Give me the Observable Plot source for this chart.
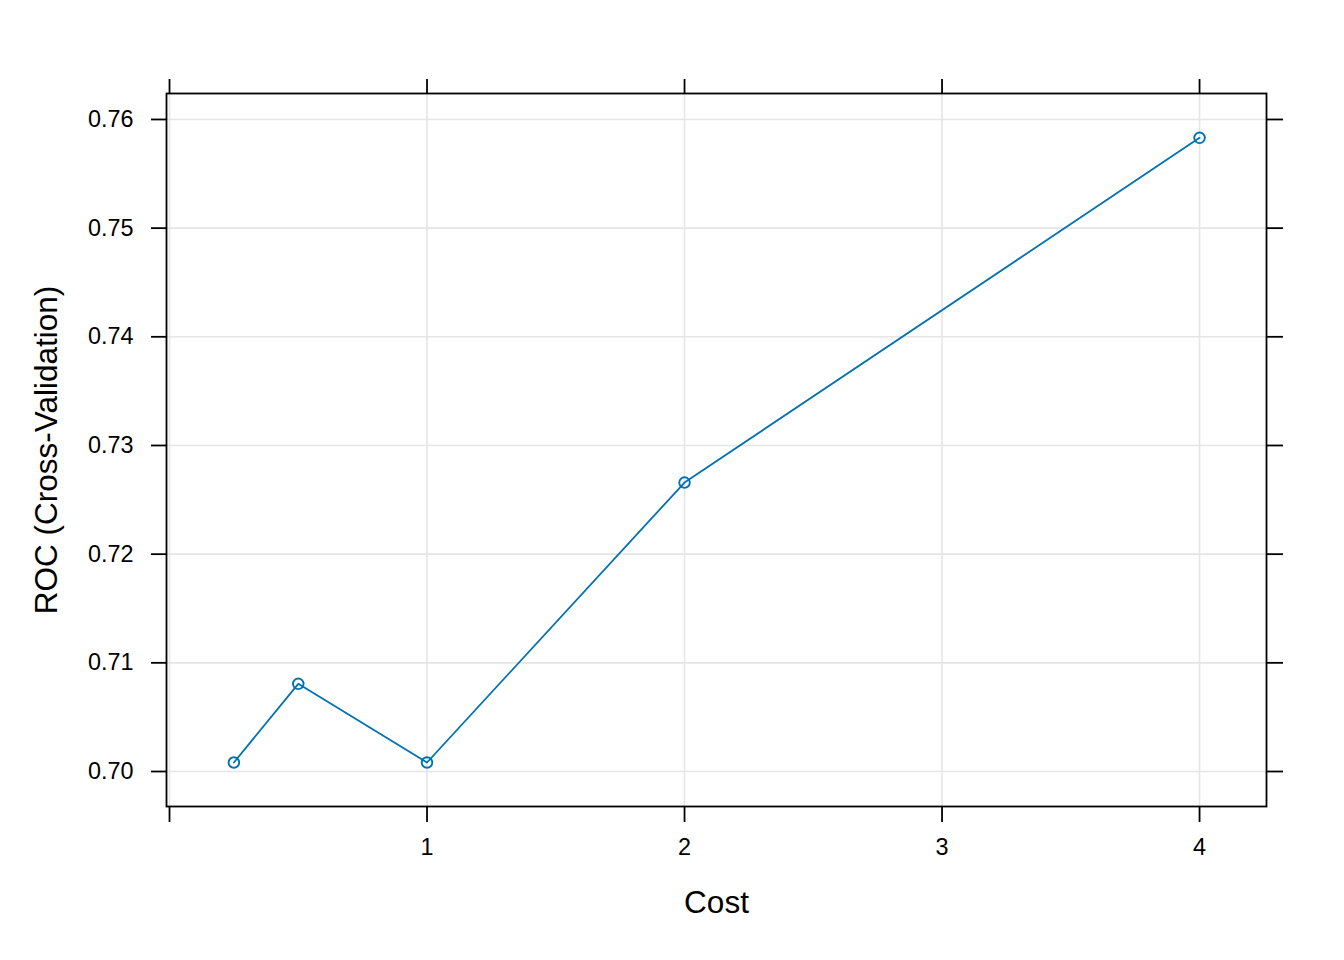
<!DOCTYPE html>
<html>
<head>
<meta charset="utf-8">
<script src="https://cdn.jsdelivr.net/npm/d3@7"></script>
<script src="https://cdn.jsdelivr.net/npm/@observablehq/plot@0.6"></script>
<style>
  html, body { margin: 0; padding: 0; background: #ffffff; }
  #chart svg { display: block; }
</style>
</head>
<body>
<div id="chart"></div>
<script>
// Data
const cost = [0.25, 0.5, 1, 2, 4];
const roc = [0.70083, 0.70807, 0.70083, 0.72659, 0.75831];
const xTicks = [0, 1, 2, 3, 4];
const yTicks = [0.70, 0.71, 0.72, 0.73, 0.74, 0.75, 0.76];
const xTitle = "Cost";
const yTitle = "ROC (Cross-Validation)";

const data = cost.map((c, i) => ({cost: c, roc: roc[i]}));
const blue = "#0072B2";
const font = "'Liberation Sans', Arial, Helvetica, sans-serif";

const chart = Plot.plot({
  width: 1344,
  height: 960,
  marginLeft: 166,
  marginRight: 78,
  marginTop: 93,
  marginBottom: 154,
  style: {fontSize: "23.4px", fontFamily: font, color: "#000", background: "#fff"},
  x: {domain: [-0.0117, 4.26]},
  y: {domain: [0.69678, 0.76239]},
  marks: [
    Plot.gridX(xTicks, {stroke: "#e5e5e5", strokeOpacity: 1, strokeWidth: 1.6}),
    Plot.gridY(yTicks, {stroke: "#e5e5e5", strokeOpacity: 1, strokeWidth: 1.6}),
    Plot.axisX({anchor: "bottom", ticks: xTicks, tickSize: 16, tickPadding: 16,
      tickFormat: d => d === 0 ? "" : String(d), strokeWidth: 1.8, label: null}),
    Plot.axisX({anchor: "top", ticks: xTicks, tickSize: 15, tickFormat: () => "",
      strokeWidth: 1.8, label: null}),
    Plot.axisY({anchor: "left", ticks: yTicks, tickSize: 15, tickPadding: 18,
      tickFormat: d3.format(".2f"), strokeWidth: 1.8, label: null}),
    Plot.axisY({anchor: "right", ticks: yTicks, tickSize: 16, tickFormat: () => "",
      strokeWidth: 1.8, label: null}),
    Plot.frame({stroke: "#000", strokeWidth: 1.8}),
    Plot.line(data, {x: "cost", y: "roc", stroke: blue, strokeWidth: 1.8}),
    Plot.dot(data, {x: "cost", y: "roc", r: 5.3, stroke: blue, strokeWidth: 1.9, fill: "none"}),
    Plot.text([xTitle], {frameAnchor: "bottom", text: d => d, dy: 96, fontSize: 31.5,
      fontFamily: font, fill: "#000", lineAnchor: "middle", textAnchor: "middle"}),
    Plot.text([yTitle], {frameAnchor: "left", text: d => d, dx: -120, rotate: -90,
      fontSize: 31.5, fontFamily: font, fill: "#000", lineAnchor: "middle", textAnchor: "middle"})
  ]
});
document.getElementById("chart").appendChild(chart);
</script>
</body>
</html>
